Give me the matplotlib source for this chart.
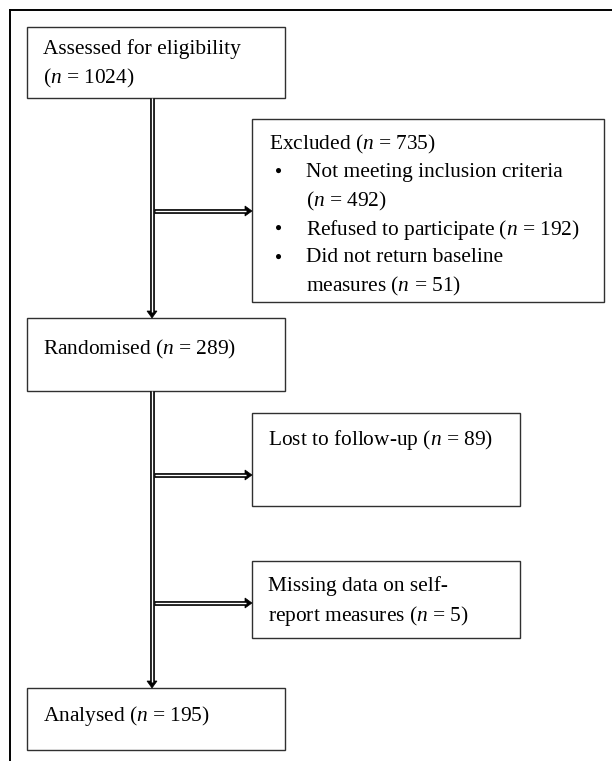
import matplotlib.pyplot as plt
from matplotlib.patches import Rectangle, Polygon

plt.rcParams['font.family'] = ['Liberation Serif', 'DejaVu Serif']
plt.rcParams['mathtext.fontset'] = 'custom'
plt.rcParams['mathtext.rm'] = 'Liberation Serif'
plt.rcParams['mathtext.it'] = 'Liberation Serif:italic'

# flow counts
n_assessed = 1024
n_excluded = 735
n_not_meeting = 492
n_refused = 192
n_no_baseline = 51
n_randomised = 289
n_lost = 89
n_missing = 5
n_analysed = 195

assessed_lines = ["Assessed for eligibility", f"($n$ = {n_assessed})"]
excluded_title = f"Excluded ($n$ = {n_excluded})"
excluded_bullets = [
    ["Not meeting inclusion criteria", f"($n$ = {n_not_meeting})"],
    [f"Refused to participate ($n$ = {n_refused})"],
    ["Did not return baseline", f"measures ($n$ = {n_no_baseline})"],
]
randomised_lines = [f"Randomised ($n$ = {n_randomised})"]
lost_lines = [f"Lost to follow-up ($n$ = {n_lost})"]
missing_lines = ["Missing data on self-", f"report measures ($n$ = {n_missing})"]
analysed_lines = [f"Analysed ($n$ = {n_analysed})"]

W, H = 612, 761
fig = plt.figure(figsize=(W / 100, H / 100), dpi=100)
ax = fig.add_axes([0, 0, 1, 1])
ax.set_xlim(0, W)
ax.set_ylim(H, 0)
ax.axis('off')

FS = 15.4
LH = 28.5


def box(x0, y0, x1, y1):
    ax.add_patch(Rectangle((x0, y0), x1 - x0, y1 - y0, fill=False,
                           edgecolor='#303030', lw=1.0))


def lines_at(x, y, lines):
    for i, s in enumerate(lines):
        ax.text(x, y + i * LH, s, fontsize=FS, ha='left', va='center_baseline')


def double_arrow(x0, y0, x1, y1):
    # double line with solid head
    vertical = x0 == x1
    hl = 7
    hw = 5
    if vertical:
        ax.plot([x0, x1], [y0, y1 - hl], color='black', lw=3.4, solid_capstyle='butt')
        ax.plot([x0, x1], [y0, y1 - hl + 1], color='white', lw=1.0, solid_capstyle='butt')
        head = [(x1 - hw, y1 - hl), (x1 + hw, y1 - hl), (x1, y1)]
    else:
        ax.plot([x0, x1 - hl], [y0, y1], color='black', lw=3.4, solid_capstyle='butt')
        ax.plot([x0 + 1, x1 - hl + 1], [y0, y1], color='white', lw=1.0, solid_capstyle='butt')
        head = [(x1 - hl, y1 - hw), (x1 - hl, y1 + hw), (x1, y1)]
    ax.add_patch(Polygon(head, closed=True, facecolor='black', edgecolor='black', lw=0.5))


# outer frame
ax.plot([10, W], [10, 10], color='black', lw=1.4)
ax.plot([10, 10], [10, H], color='black', lw=1.4)

# main column
box(27, 27, 285, 98)
lines_at(43, 47, assessed_lines)

box(27, 318, 285, 391)
lines_at(43, 346, randomised_lines)

box(27, 688, 285, 750)
lines_at(43, 712, analysed_lines)

# side boxes
box(252, 119, 604, 302)
ax.text(269, 141, excluded_title, fontsize=FS, ha='left', va='center_baseline')
y = 141 + LH
for item in excluded_bullets:
    ax.text(279, y, "\u25cf", fontsize=FS * 0.55, ha='center', va='center_baseline')
    lines_at(306, y, item)
    y += LH * len(item)

box(252, 413, 520, 506)
lines_at(268, 436, lost_lines)

box(252, 561, 520, 638)
lines_at(268, 584, missing_lines)

# arrows
double_arrow(152, 98, 152, 318)
double_arrow(154, 211, 252, 211)
double_arrow(152, 391, 152, 688)
double_arrow(154, 475, 252, 475)
double_arrow(154, 603, 252, 603)

fig.savefig("out.png", dpi=100)
